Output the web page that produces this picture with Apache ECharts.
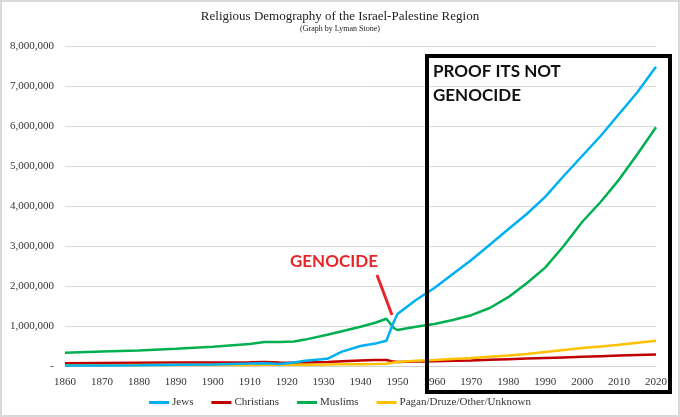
<!DOCTYPE html>
<html>
<head>
<meta charset="utf-8">
<script src="https://cdn.jsdelivr.net/npm/echarts@6/dist/echarts.min.js"></script>
<style>
html,body{margin:0;padding:0;background:#fff;}
#c{width:680px;height:417px;box-sizing:border-box;border:2px solid #d9d9d9;}
</style>
</head>
<body>
<div id="c"></div>
<script>
const years = [1860,1870,1880,1890,1900,1910,1914,1918,1922,1925,1931,1935,1940,1944,1947,1949,1950,1955,1960,1965,1970,1975,1980,1985,1990,1995,2000,2005,2010,2015,2020];
const jews = [10000,15000,20000,30000,40000,60000,70000,50000,90000,130000,180000,360000,500000,560000,630000,1100000,1300000,1650000,1950000,2300000,2650000,3030000,3420000,3800000,4230000,4750000,5250000,5750000,6300000,6850000,7480000];
const christians = [70000,75000,80000,85000,90000,95000,100000,85000,80000,90000,100000,120000,140000,150000,150000,110000,100000,110000,120000,130000,140000,155000,170000,185000,200000,215000,230000,245000,260000,275000,290000];
const muslims = [330000,360000,390000,430000,480000,550000,600000,600000,610000,660000,780000,870000,980000,1080000,1180000,950000,900000,980000,1050000,1150000,1270000,1450000,1720000,2070000,2460000,3000000,3600000,4100000,4660000,5300000,5970000];
const others = [20000,20000,22000,24000,26000,28000,30000,30000,32000,34000,38000,42000,46000,50000,55000,90000,100000,130000,150000,175000,200000,230000,260000,300000,350000,400000,450000,490000,530000,580000,630000];
const seriesNames = ['Jews','Christians','Muslims','Pagan/Druze/Other/Unknown'];
const colors = ['#00b0f0','#c00000','#00b050','#ffc000'];
const titleText = 'Religious Demography of the Israel-Palestine Region';
const subtitleText = '(Graph by Lyman Stone)';

const pair = arr => years.map((y,i)=>[y,arr[i]]);
const serif = '"Liberation Serif","DejaVu Serif",serif';
const chart = echarts.init(document.getElementById('c'));
const mk = (name, arr, i) => ({
  name, type:'line', data:pair(arr), showSymbol:false, symbol:'none',
  lineStyle:{width:2.5,color:colors[i]}, itemStyle:{color:colors[i]}, z: i===0?5:3
});
chart.setOption({
  animation:false,
  title:{text:titleText, subtext:subtitleText, left:'center', top:3, itemGap:2,
    textStyle:{fontFamily:serif,fontSize:13,fontWeight:'normal',color:'#222'},
    subtextStyle:{fontFamily:serif,fontSize:8,color:'#222'}},
  grid:{left:63,right:22,top:44,bottom:49},
  legend:{bottom:2,left:'center',itemWidth:20,itemHeight:3,itemGap:18,icon:'rect',
    textStyle:{fontFamily:serif,fontSize:11,color:'#333',padding:[0,0,0,-2]},
    data:seriesNames},
  xAxis:{type:'value',min:1860,max:2020,interval:10,
    axisLine:{show:true,lineStyle:{color:'#d0d0d0'}},axisTick:{show:false},splitLine:{show:false},
    axisLabel:{fontFamily:serif,fontSize:11,color:'#333',margin:11,formatter:v=>String(v)}},
  yAxis:{type:'value',min:0,max:8000000,interval:1000000,
    axisLine:{show:false},axisTick:{show:false},
    splitLine:{lineStyle:{color:'#d9d9d9'}},
    axisLabel:{fontFamily:serif,fontSize:11,color:'#333',margin:11,
      formatter:v=> v===0 ? '-' : v.toLocaleString('en-US')}},
  series:[mk(seriesNames[0],jews,0),mk(seriesNames[1],christians,1),mk(seriesNames[2],muslims,2),mk(seriesNames[3],others,3)],
  graphic:[
    {type:'rect',shape:{x:425,y:54,width:243,height:336},style:{fill:'none',stroke:'#000',lineWidth:4},z:10},
    {type:'text',left:431,top:58,style:{text:'PROOF ITS NOT\nGENOCIDE',font:'bold 17px Lato, sans-serif',fill:'#111',lineHeight:24},z:10},
    {type:'text',left:288,top:251,style:{text:'GENOCIDE',font:'bold 17px Lato, sans-serif',fill:'#e8262a'},z:10},
    {type:'line',shape:{x1:375,y1:273,x2:390,y2:313},style:{stroke:'#e8262a',lineWidth:3},z:10}
  ]
});
</script>
</body>
</html>
